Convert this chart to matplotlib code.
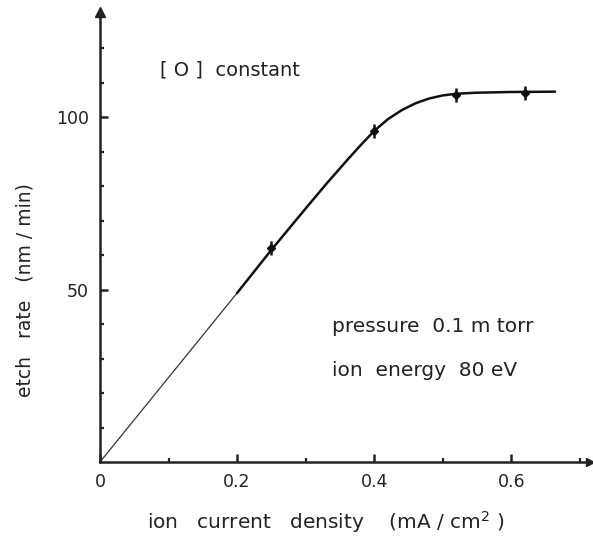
import matplotlib
matplotlib.use("Agg")
import matplotlib.pyplot as plt

# measured data points
x_pts = [0.25, 0.40, 0.52, 0.62]
y_pts = [62.0, 96.0, 106.5, 107.0]

# fitted curve
curve_x_thin = [0.0, 0.10, 0.20]
curve_y_thin = [0.0, 24.5, 49.0]
curve_x = [0.20, 0.25, 0.30, 0.33, 0.36, 0.38, 0.40, 0.42, 0.44, 0.46, 0.48, 0.50, 0.52, 0.55, 0.60, 0.664]
curve_y = [49.0, 61.5, 73.5, 80.6, 87.4, 91.8, 96.0, 99.4, 102.0, 104.0, 105.4, 106.3, 106.8, 107.1, 107.3, 107.4]

x_ticks = [0, 0.2, 0.4, 0.6]
x_ticklabels = ["0", "0.2", "0.4", "0.6"]
y_ticks = [50, 100]
y_ticklabels = ["50", "100"]

plt.rcParams['font.family'] = ['DejaVu Sans']
fig = plt.figure(figsize=(5.93, 5.40), dpi=100)
ax = fig.add_axes([100/593, 78/540, 490/593, 450/540])
ax.set_xlim(0, 0.715)
ax.set_ylim(0, 130.5)

ax.plot(curve_x_thin, curve_y_thin, color='#333333', lw=0.9, solid_capstyle='round')
ax.plot(curve_x, curve_y, color='#111111', lw=1.8, solid_capstyle='round', solid_joinstyle='round')
ax.plot(x_pts, y_pts, linestyle='none', marker='D', ms=4.5, color='#111111')
ax.plot(x_pts, y_pts, linestyle='none', marker='|', ms=10, mew=1.8, color='#111111')

for s in ['top', 'right']:
    ax.spines[s].set_visible(False)
for s in ['left', 'bottom']:
    ax.spines[s].set_linewidth(1.8)
    ax.spines[s].set_color('#222222')

ax.plot(1, 0, marker='>', ms=6, color='#222222', transform=ax.transAxes, clip_on=False)
ax.plot(0, 1, marker='^', ms=7, color='#222222', transform=ax.transAxes, clip_on=False)

ax.set_xticks(x_ticks)
ax.set_xticklabels(x_ticklabels)
ax.set_yticks(y_ticks)
ax.set_yticklabels(y_ticklabels)
ax.set_xticks([0.1, 0.3, 0.5, 0.7], minor=True)
ax.set_yticks([10, 20, 30, 40, 60, 70, 80, 90, 110, 120], minor=True)
ax.tick_params(which='major', direction='in', length=6, width=1.8, labelsize=12.5,
               colors='#222222', pad=8)
ax.tick_params(which='minor', direction='in', length=3, width=1.6, colors='#222222')

ax.set_xlabel("ion   current   density    (mA / cm$^{\\mathregular{2}}$ )", fontsize=14.5,
              color='#222222')
ax.xaxis.set_label_coords((326 - 100) / 490, -(522 - 462) / 450)
ax.xaxis.label.set_va('center')
ax.set_ylabel("etch   rate   (nm / min)", fontsize=13.5, color='#222222')
ax.yaxis.set_label_coords((25 - 100) / 490, (462 - 290) / 450)
ax.yaxis.label.set_va('center')

fig.text(160/593, 1 - 70/540, "[ O ]  constant", fontsize=14, color='#222222', va='center', ha='left')
fig.text(332/593, 1 - 327/540, "pressure  0.1 m torr", fontsize=14.5, color='#222222', va='center', ha='left')
fig.text(332/593, 1 - 370/540, "ion  energy  80 eV", fontsize=14.5, color='#222222', va='center', ha='left')

fig.savefig("out.png", dpi=100)
